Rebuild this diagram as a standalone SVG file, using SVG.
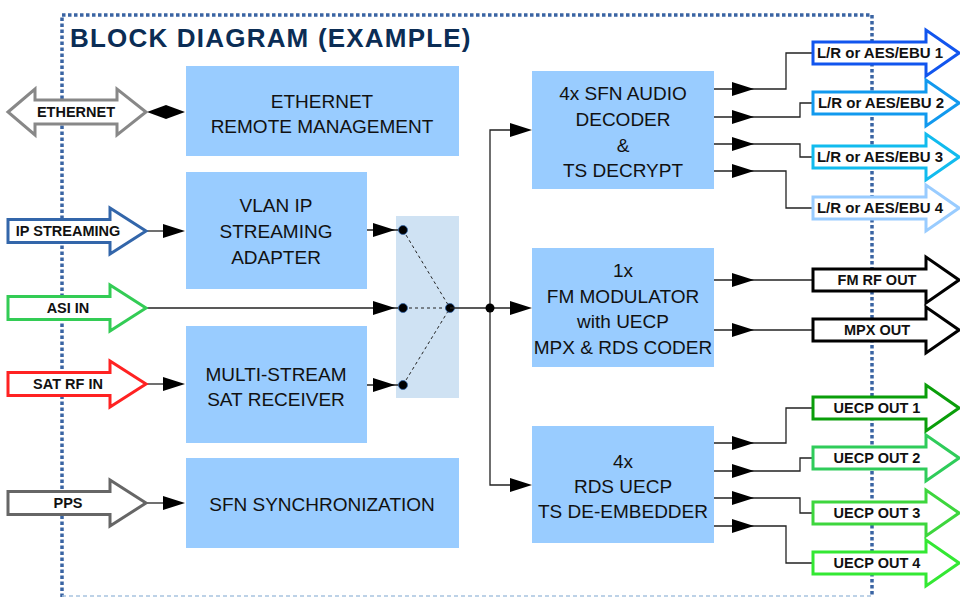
<svg xmlns="http://www.w3.org/2000/svg" xmlns:xlink="http://www.w3.org/1999/xlink" width="960" height="597" viewBox="0 0 960 597">
<style>
.box{fill:#99ccff}
.bt{font-family:"Liberation Sans",Arial,sans-serif;font-size:19px;fill:#111;text-anchor:middle}
.lbl{font-family:"Liberation Sans",Arial,sans-serif;font-size:14.5px;font-weight:bold;fill:#111;text-anchor:middle}
.lbl2{font-family:"Liberation Sans",Arial,sans-serif;font-size:15px;font-weight:bold;fill:#111;text-anchor:middle}
.big{fill:#fff;stroke-width:3;stroke-linejoin:miter}
.ln{fill:none;stroke:#222;stroke-width:1.3}
.dash{fill:none;stroke:#222;stroke-width:1;stroke-dasharray:3 3}
.tri{fill:#000}
.dot{fill:#000;stroke:#3366aa;stroke-width:0.8}
.frame{fill:none;stroke:#3a64a3;stroke-width:3.5;stroke-dasharray:3.5 2.5}
</style>
<defs>
<path id="tri" d="M-22,-7 L0,0 L-22,7 Z"/>
<path id="inArrow" d="M8,-11.5 H110 V-23 L146,0 L110,23 V11.5 H8 Z"/>
<path id="outArrow" d="M813,-11 H926 V-23 L959,0 L926,23 V11 H813 Z"/>
</defs>
<rect width="960" height="597" fill="#fff"/>

<g id="frame">
<path class="frame" d="M62,597 V15 H872 V597"/>
<line x1="62" y1="596" x2="872" y2="596" stroke="#a8c4e0" stroke-width="1.5" stroke-dasharray="4 3"/>
<text x="70" y="47" font-family="'Liberation Sans',Arial,sans-serif" font-size="26" font-weight="bold" fill="#0b2d55" letter-spacing="1.2">BLOCK DIAGRAM (EXAMPLE)</text>
</g>

<g id="switch">
<rect x="396" y="216" width="63" height="182" fill="#cfe2f3"/>
</g>

<g id="connectors">
<polygon points="147,112 166,105 185,112 166,119" fill="#000"/>
<line class="ln" x1="146" y1="231" x2="165" y2="231"/>
<use href="#tri" class="tri" x="185" y="231"/>
<line class="ln" x1="367" y1="230" x2="400" y2="230"/>
<use href="#tri" class="tri" x="395" y="230"/>
<line class="ln" x1="146" y1="308" x2="400" y2="308"/>
<use href="#tri" class="tri" x="395" y="308"/>
<line class="ln" x1="146" y1="384" x2="165" y2="384"/>
<use href="#tri" class="tri" x="185" y="384"/>
<line class="ln" x1="367" y1="385" x2="400" y2="385"/>
<use href="#tri" class="tri" x="395" y="385"/>
<line class="ln" x1="146" y1="503" x2="165" y2="503"/>
<use href="#tri" class="tri" x="185" y="503"/>
<line class="dash" x1="403" y1="230" x2="450" y2="308"/>
<line class="dash" x1="403" y1="308" x2="450" y2="308"/>
<line class="dash" x1="403" y1="385" x2="450" y2="308"/>
<circle class="dot" cx="403" cy="230" r="4.5"/>
<circle class="dot" cx="403" cy="308" r="4.5"/>
<circle class="dot" cx="403" cy="385" r="4.5"/>
<circle class="dot" cx="450" cy="308" r="4.5"/>
<line class="ln" x1="450" y1="308" x2="515" y2="308"/>
<use href="#tri" class="tri" x="532" y="308"/>
<path class="ln" d="M515,130 H490 V485 H515"/>
<use href="#tri" class="tri" x="532" y="130"/>
<use href="#tri" class="tri" x="532" y="485"/>
<circle cx="490" cy="308" r="4.5" fill="#000"/>
<path class="ln" d="M714,89 H786 V53 H813"/>
<path class="ln" d="M714,117 H800 V103 H813"/>
<path class="ln" d="M714,144 H800 V157 H813"/>
<path class="ln" d="M714,171 H786 V208 H813"/>
<use href="#tri" class="tri" x="754" y="89"/>
<use href="#tri" class="tri" x="754" y="117"/>
<use href="#tri" class="tri" x="754" y="144"/>
<use href="#tri" class="tri" x="754" y="171"/>
<path class="ln" d="M714,280 H813"/>
<path class="ln" d="M714,330 H813"/>
<use href="#tri" class="tri" x="754" y="280"/>
<use href="#tri" class="tri" x="754" y="330"/>
<path class="ln" d="M714,443 H786 V408 H813"/>
<path class="ln" d="M714,471 H800 V458 H813"/>
<path class="ln" d="M714,498 H800 V513 H813"/>
<path class="ln" d="M714,526 H786 V563 H813"/>
<use href="#tri" class="tri" x="754" y="443"/>
<use href="#tri" class="tri" x="754" y="471"/>
<use href="#tri" class="tri" x="754" y="498"/>
<use href="#tri" class="tri" x="754" y="526"/>
</g>

<g id="in-ethernet">
<path class="big" stroke="#888" d="M8,112 L35,89 V100 H117 V89 L146,112 L117,135 V124 H35 V135 Z"/>
<text class="lbl" x="76" y="117">ETHERNET</text>
</g>
<g id="in-ip">
<use href="#inArrow" class="big" stroke="#3366aa" y="231"/>
<text class="lbl" x="68" y="236">IP STREAMING</text>
</g>
<g id="in-asi">
<use href="#inArrow" class="big" stroke="#33cc55" y="308"/>
<text class="lbl" x="68" y="313">ASI IN</text>
</g>
<g id="in-sat">
<use href="#inArrow" class="big" stroke="#ff2222" y="384"/>
<text class="lbl" x="68" y="389">SAT RF IN</text>
</g>
<g id="in-pps">
<use href="#inArrow" class="big" stroke="#666" y="503"/>
<text class="lbl" x="68" y="508">PPS</text>
</g>

<g id="eth-mgmt">
<rect class="box" x="186" y="66" width="273" height="90"/>
<text class="bt" x="322" y="108">ETHERNET</text>
<text class="bt" x="322" y="133">REMOTE MANAGEMENT</text>
</g>
<g id="vlan">
<rect class="box" x="186" y="172" width="181" height="117"/>
<text class="bt" x="276" y="212">VLAN IP</text>
<text class="bt" x="276" y="238">STREAMING</text>
<text class="bt" x="276" y="264">ADAPTER</text>
</g>
<g id="sat-rx">
<rect class="box" x="186" y="326" width="181" height="117"/>
<text class="bt" x="276" y="381">MULTI-STREAM</text>
<text class="bt" x="276" y="406">SAT RECEIVER</text>
</g>
<g id="sfn-sync">
<rect class="box" x="186" y="458" width="273" height="90"/>
<text class="bt" x="322" y="511">SFN SYNCHRONIZATION</text>
</g>
<g id="audio-dec">
<rect class="box" x="532" y="71" width="182" height="118"/>
<text class="bt" x="623" y="100">4x SFN AUDIO</text>
<text class="bt" x="623" y="126">DECODER</text>
<text class="bt" x="623" y="152">&amp;</text>
<text class="bt" x="623" y="177">TS DECRYPT</text>
</g>
<g id="fm-mod">
<rect class="box" x="532" y="248" width="182" height="119"/>
<text class="bt" x="623" y="277">1x</text>
<text class="bt" x="623" y="303">FM MODULATOR</text>
<text class="bt" x="623" y="328">with UECP</text>
<text class="bt" x="623" y="354">MPX &amp; RDS CODER</text>
</g>
<g id="rds-uecp">
<rect class="box" x="532" y="426" width="182" height="117"/>
<text class="bt" x="623" y="468">4x</text>
<text class="bt" x="623" y="493">RDS UECP</text>
<text class="bt" x="623" y="518">TS DE-EMBEDDER</text>
</g>

<g id="out-aes1"><use href="#outArrow" class="big" stroke="#1155ee" y="53"/><text class="lbl2" x="880" y="58">L/R or AES/EBU 1</text></g>
<g id="out-aes2"><use href="#outArrow" class="big" stroke="#1199ee" y="103"/><text class="lbl2" x="881" y="108">L/R or AES/EBU 2</text></g>
<g id="out-aes3"><use href="#outArrow" class="big" stroke="#11bbee" y="157"/><text class="lbl2" x="880" y="162">L/R or AES/EBU 3</text></g>
<g id="out-aes4"><use href="#outArrow" class="big" stroke="#99ccff" y="208"/><text class="lbl2" x="880" y="213">L/R or AES/EBU 4</text></g>
<g id="out-fmrf"><use href="#outArrow" class="big" stroke="#000" y="280"/><text class="lbl" x="877" y="285">FM RF OUT</text></g>
<g id="out-mpx"><use href="#outArrow" class="big" stroke="#000" y="330"/><text class="lbl" x="877" y="335">MPX OUT</text></g>
<g id="out-uecp1"><use href="#outArrow" class="big" stroke="#0a9e0a" y="408"/><text class="lbl" x="877" y="413">UECP OUT 1</text></g>
<g id="out-uecp2"><use href="#outArrow" class="big" stroke="#2fcc5a" y="458"/><text class="lbl" x="877" y="463">UECP OUT 2</text></g>
<g id="out-uecp3"><use href="#outArrow" class="big" stroke="#3dd63d" y="513"/><text class="lbl" x="877" y="518">UECP OUT 3</text></g>
<g id="out-uecp4"><use href="#outArrow" class="big" stroke="#33e833" y="563"/><text class="lbl" x="877" y="568">UECP OUT 4</text></g>
</svg>
